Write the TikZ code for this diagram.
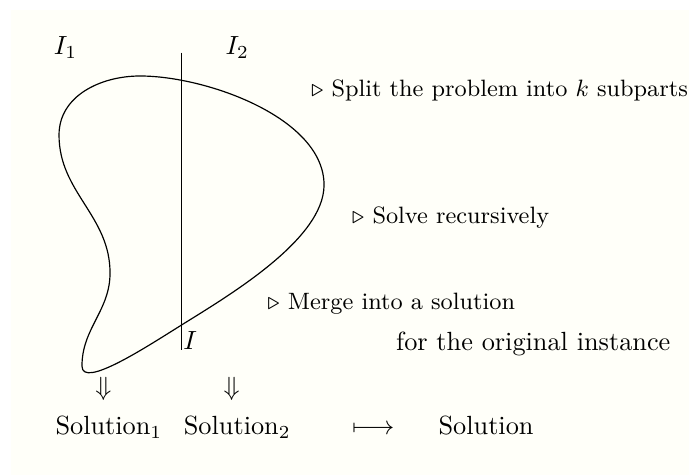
\documentclass[tikz,border=0pt]{standalone}
\usepackage{amssymb}
\usepackage{xcolor}
\usetikzlibrary{positioning,calc}
\definecolor{paper}{RGB}{255,255,249}
\tikzset {
    partname/.style={inner sep=0pt, anchor=base west},
    stepnote/.style={inner sep=0pt, anchor=base west, font=\small},
    outcome/.style={inner sep=0pt, anchor=base west},
    implies/.style={inner sep=0pt},
    instance/.style={draw, line width=0.45pt},
}

\begin{document}
\begin{tikzpicture}

        \useasboundingbox (0,0) rectangle (9.211,6.350);
        \fill[paper] (0.147,0) rectangle (9.211,6.216);

        % the instance and its cut
        \coordinate (top) at (1.872,5.334);
        \coordinate (right) at (4.332,3.877);
        \coordinate (cross) at (2.427,2.005);
        \coordinate (tip) at (1.096,1.457);
        \coordinate (bulge) at (1.471,2.701);
        \coordinate (left) at (0.789,4.545);

        \coordinate (cuttop) at (2.427,5.646);
        \coordinate (cutbot) at (2.427,1.671);

        \draw[instance] (top) to[out=0, in=90, looseness=0.8] (right)
            to[out=-90, in=32, looseness=0.7] (cross)
            to[out=212, in=-90, in looseness=0.55] (tip)
            to[out=90, in=-90] (bulge)
            to[out=90, in=-90] (left)
            to[out=90, in=180] (top);
        \draw[line width=0.35pt] (cuttop) -- (cutbot);

        \node[partname] (first) at (0.713,5.615) {$I_1$};
        \node[partname] (second) at (3.008,5.615) {$I_2$};
        \node[partname, xshift=0.5pt] (whole) at (cutbot) {$I$};

        % the three steps
        \node[stepnote] (split) at (4.154,5.058)
            {$\triangleright$ Split the problem into $k$ subparts};
        \node[stepnote] (solve) at (4.702,3.365)
            {$\triangleright$ Solve recursively};
        \node[stepnote] (merge) at (3.570,2.219)
            {$\triangleright$ Merge into a solution};
        \node[partname] (original) at (5.290,1.658)
            {for the original instance};

        % solutions
        \node[implies] (down1) at (1.381,1.150) {$\Downarrow$};
        \node[implies] (down2) at (3.098,1.150) {$\Downarrow$};

        \node[outcome] (sol1) at (0.735,0.535) {Solution$_1$};
        \node[outcome] (sol2) at (2.451,0.535) {Solution$_2$};
        \node[outcome] (maps) at (4.700,0.535) {$\longmapsto$};
        \node[outcome] (sol) at (5.856,0.535) {Solution};

\end{tikzpicture}
\end{document}
